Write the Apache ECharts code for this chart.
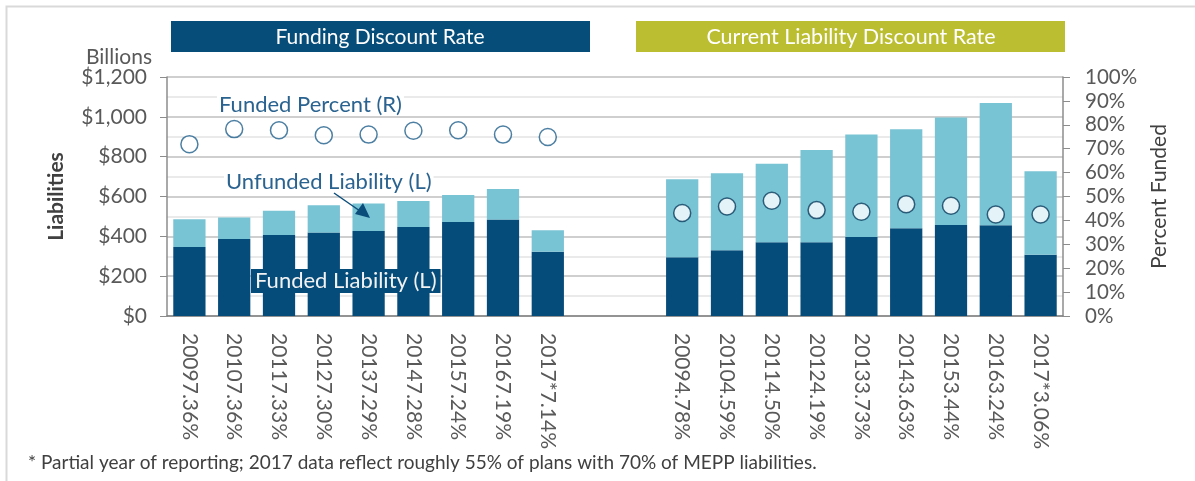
<!DOCTYPE html>
<html>
<head>
<meta charset="utf-8">
<script src="https://cdn.jsdelivr.net/npm/echarts@6/dist/echarts.min.js"></script>
<style>
  html, body { margin: 0; padding: 0; background: #fff; }
  #chart { width: 1195px; height: 481px; }
</style>
</head>
<body>
<div id="chart"></div>
<script>
// years and discount rates (x-axis labels)
var years = ['2009', '2010', '2011', '2012', '2013', '2014', '2015', '2016', '2017*'];
var fundingRates = ['7.36%', '7.36%', '7.33%', '7.30%', '7.29%', '7.28%', '7.24%', '7.19%', '7.14%'];
var currentRates = ['4.78%', '4.59%', '4.50%', '4.19%', '3.73%', '3.63%', '3.44%', '3.24%', '3.06%'];

// $ billions, funding discount rate panel
var fundingFunded   = [347, 387, 407, 419, 427, 447, 472, 484, 322];
var fundingUnfunded = [139, 107, 121, 137, 138, 130, 135, 154, 109];
var fundingPct      = [71.9, 78.2, 77.7, 75.6, 75.9, 77.5, 77.7, 75.9, 74.9];

// $ billions, current liability discount rate panel
var currentFunded   = [295, 330, 370, 370, 397, 440, 457, 456, 308];
var currentUnfunded = [392, 387, 395, 464, 514, 498, 540, 613, 419];
var currentPct      = [43.1, 45.8, 48.2, 44.3, 43.6, 46.8, 46.1, 42.5, 42.5];

var gapCount = 2;  // empty slots between the two panels

var darkBlue = '#064c7a';
var lightBlue = '#78c3d4';
var font = 'Lato, "Open Sans", sans-serif';

var blanks = [];
for (var i = 0; i < gapCount; i++) blanks.push('-');
var blankCats = [];
for (var i = 0; i < gapCount; i++) blankCats.push(' '.repeat(i + 1));

var cats = years.map(function (y, i) { return y + fundingRates[i]; })
  .concat(blankCats)
  .concat(years.map(function (y, i) { return y + currentRates[i]; }));

var none9 = years.map(function () { return '-'; });

var funded = fundingFunded.concat(blanks, currentFunded);
var unfunded = fundingUnfunded.concat(blanks, currentUnfunded);
var pctLeft = fundingPct.concat(blanks, none9);
var pctRight = none9.concat(blanks, currentPct);

var chart = echarts.init(document.getElementById('chart'));

chart.setOption({
  animation: false,
  textStyle: { fontFamily: font },
  grid: { left: 167, right: 132, top: 77, bottom: 165 },
  xAxis: {
    type: 'category',
    data: cats,
    axisLine: { lineStyle: { color: '#808080', width: 1.5 } },
    axisTick: { show: false },
    axisLabel: { rotate: -90, margin: 17, fontSize: 21, color: '#595959', interval: 0 }
  },
  yAxis: [{
    type: 'value',
    min: 0, max: 1200, interval: 200,
    name: 'Liabilities',
    nameLocation: 'middle',
    nameGap: 100,
    nameTextStyle: { fontSize: 21, fontWeight: 'bold', color: '#404040' },
    axisLine: { show: true, lineStyle: { color: '#8c8c8c', width: 1.5 } },
    axisTick: { show: true, length: 7, lineStyle: { color: '#8c8c8c' } },
    axisLabel: {
      margin: 20, fontSize: 21, color: '#595959',
      formatter: function (v) { return '$' + v.toLocaleString('en-US'); }
    },
    splitLine: { lineStyle: { color: '#bfbfbf', width: 1.5 } },
    minorTick: { show: false, splitNumber: 2 },
    minorSplitLine: { show: true, lineStyle: { color: '#e3e3e3', width: 1.5 } }
  }, {
    type: 'value',
    min: 0, max: 100, interval: 10,
    name: 'Percent Funded',
    nameLocation: 'middle',
    nameGap: 86,
    nameRotate: 90,
    nameTextStyle: { fontSize: 21, color: '#404040' },
    axisLine: { show: true, lineStyle: { color: '#8c8c8c', width: 1.5 } },
    axisTick: { show: true, length: 7, lineStyle: { color: '#8c8c8c' } },
    axisLabel: { margin: 22, fontSize: 20.5, color: '#595959', formatter: '{value}%' },
    splitLine: { show: false }
  }],
  series: [{
    name: 'Funded Liability (L)',
    type: 'bar',
    stack: 'liab',
    barCategoryGap: '28%',
    itemStyle: { color: darkBlue },
    data: funded
  }, {
    name: 'Unfunded Liability (L)',
    type: 'bar',
    stack: 'liab',
    itemStyle: { color: lightBlue },
    data: unfunded
  }, {
    name: 'Funded Percent (R)',
    type: 'scatter',
    yAxisIndex: 1,
    symbolSize: 17,
    itemStyle: { color: '#fff', borderColor: '#1f5f8b', borderWidth: 1.5 },
    data: pctLeft,
    z: 5
  }, {
    name: 'Funded Percent (R) current',
    type: 'scatter',
    yAxisIndex: 1,
    symbolSize: 17,
    itemStyle: { color: '#fff', borderColor: '#0b3c5d', borderWidth: 1.5 },
    data: pctRight,
    z: 5
  }],
  graphic: [
    // outer frame
    { type: 'rect', shape: { x: 6.5, y: 6.5, width: 1300, height: 600 },
      style: { fill: 'none', stroke: '#d9d9d9', lineWidth: 2 }, silent: true },
    // panel headers
    { type: 'rect', shape: { x: 171, y: 21, width: 419, height: 31 }, style: { fill: '#064d7a' } },
    { type: 'text', x: 380, y: 37,
      style: { text: 'Funding Discount Rate', fill: '#fff', font: '21px ' + font, align: 'center', verticalAlign: 'middle' } },
    { type: 'rect', shape: { x: 636, y: 21, width: 429, height: 31 }, style: { fill: '#bcbe32' } },
    { type: 'text', x: 851, y: 37,
      style: { text: 'Current Liability Discount Rate', fill: '#fff', font: '21.5px ' + font, align: 'center', verticalAlign: 'middle' } },
    // unit
    { type: 'text', x: 152, y: 57,
      style: { text: 'Billions', fill: '#595959', font: '21px ' + font, align: 'right', verticalAlign: 'middle' } },
    // series annotations
    { type: 'text', x: 217, y: 105, z: 10,
      style: { text: 'Funded Percent (R)', fill: '#2a6390', font: '22px ' + font, verticalAlign: 'middle',
        backgroundColor: '#fff', padding: [0, 2, 0, 2] } },
    { type: 'text', x: 224, y: 182, z: 10,
      style: { text: 'Unfunded Liability (L)', fill: '#2a6390', font: '22px ' + font, verticalAlign: 'middle',
        backgroundColor: '#fff', padding: [0, 2, 0, 2] } },
    { type: 'line', z: 10, shape: { x1: 334, y1: 193, x2: 360, y2: 211 },
      style: { stroke: '#0b4d7a', lineWidth: 1.5 } },
    { type: 'polygon', z: 10, shape: { points: [[370, 218], [355, 214], [363, 203]] },
      style: { fill: '#0b4d7a' } },
    { type: 'text', x: 251, y: 281, z: 10,
      style: { text: 'Funded Liability (L)', fill: '#f2f2f2', font: '22px ' + font, verticalAlign: 'middle',
        backgroundColor: darkBlue, padding: [1, 4, 1, 4] } },
    // footnote
    { type: 'text', x: 28, y: 463,
      style: { text: '* Partial year of reporting; 2017 data reflect roughly 55% of plans with 70% of MEPP liabilities.',
        fill: '#404040', font: '19px ' + font, verticalAlign: 'middle' } }
  ]
});
</script>
</body>
</html>
